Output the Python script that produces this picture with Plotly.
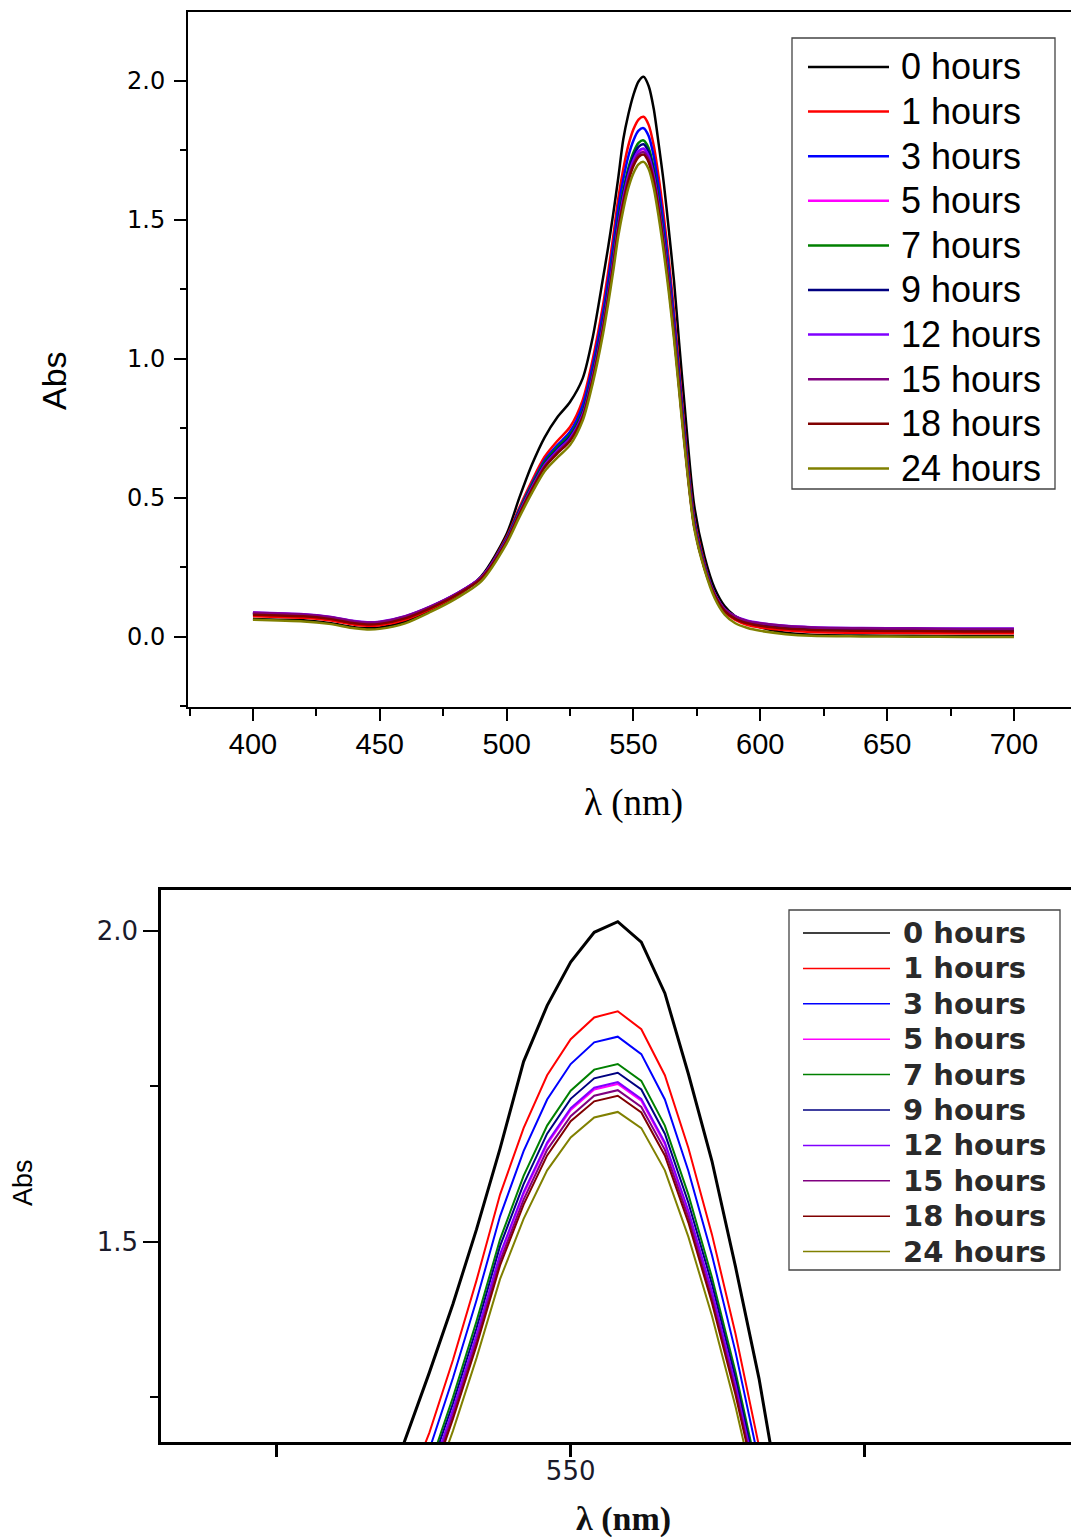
import plotly.graph_objects as go

W, H = 1071, 1537

wavelength = [400, 410, 420, 430, 440, 445, 450, 460, 470, 480,
              490, 500, 505, 510, 515, 520, 525, 530, 534, 538,
              540, 542, 544, 546, 548, 550, 552, 554, 556, 558,
              560, 562, 564, 566, 568, 570, 574, 578, 582, 586,
              590, 595, 600, 610, 620, 640, 660, 680, 700]

series_names = ["0 hours", "1 hours", "3 hours", "5 hours", "7 hours",
                "9 hours", "12 hours", "15 hours", "18 hours", "24 hours"]
series_colors = ["#000000", "#FF0000", "#0000FF", "#FF00FF", "#008000",
                 "#000080", "#8000FF", "#800080", "#800000", "#808000"]

abs_0h = [0.065, 0.062, 0.060, 0.050, 0.035, 0.031, 0.034, 0.055,
          0.095, 0.145, 0.218,
          0.370, 0.500, 0.620, 0.718, 0.790, 0.845,
          0.930, 1.080, 1.290, 1.400, 1.520, 1.650, 1.790, 1.880, 1.950, 1.998, 2.015,
          1.982, 1.900, 1.770, 1.630, 1.460, 1.280, 1.060, 0.850, 0.470, 0.290,
          0.175, 0.110, 0.075, 0.050, 0.035, 0.015, 0.008, 0.005, 0.004, 0.003, 0.003]
abs_1h = [0.075, 0.072, 0.069, 0.060, 0.044, 0.040, 0.042, 0.062,
          0.100, 0.148, 0.212,
          0.360, 0.465, 0.562, 0.648, 0.705, 0.755,
          0.852, 1.001, 1.193, 1.310, 1.438, 1.576, 1.683, 1.768, 1.826, 1.861, 1.871,
          1.842, 1.768, 1.651, 1.512, 1.352, 1.171, 0.969, 0.767, 0.426, 0.266,
          0.150, 0.090, 0.062, 0.043, 0.034, 0.024, 0.018, 0.015, 0.014, 0.013, 0.013]
abs_3h = [0.085, 0.082, 0.079, 0.070, 0.054, 0.050, 0.052, 0.072,
          0.108, 0.153, 0.214,
          0.355, 0.458, 0.552, 0.636, 0.690, 0.738,
          0.833, 0.979, 1.166, 1.281, 1.406, 1.541, 1.646, 1.729, 1.786, 1.821, 1.830,
          1.802, 1.729, 1.614, 1.479, 1.323, 1.146, 0.948, 0.750, 0.417, 0.260,
          0.155, 0.097, 0.071, 0.054, 0.045, 0.035, 0.030, 0.027, 0.026, 0.025, 0.025]
abs_5h = [0.086, 0.083, 0.080, 0.071, 0.055, 0.051, 0.053, 0.073,
          0.108, 0.153, 0.214,
          0.348, 0.447, 0.538, 0.619, 0.670, 0.715,
          0.799, 0.938, 1.118, 1.228, 1.348, 1.477, 1.577, 1.657, 1.712, 1.745, 1.754,
          1.727, 1.657, 1.547, 1.418, 1.268, 1.098, 0.908, 0.719, 0.399, 0.250,
          0.154, 0.098, 0.073, 0.056, 0.047, 0.037, 0.032, 0.029, 0.028, 0.027, 0.027]
abs_7h = [0.084, 0.081, 0.078, 0.069, 0.053, 0.049, 0.051, 0.071,
          0.107, 0.152, 0.213,
          0.352, 0.454, 0.547, 0.629, 0.682, 0.728,
          0.813, 0.956, 1.138, 1.250, 1.372, 1.504, 1.606, 1.687, 1.743, 1.777, 1.786,
          1.759, 1.687, 1.576, 1.443, 1.291, 1.118, 0.925, 0.732, 0.407, 0.254,
          0.155, 0.096, 0.070, 0.053, 0.044, 0.034, 0.029, 0.026, 0.025, 0.024, 0.024]
abs_9h = [0.085, 0.082, 0.079, 0.070, 0.054, 0.050, 0.052, 0.072,
          0.108, 0.153, 0.214,
          0.350, 0.450, 0.542, 0.623, 0.675, 0.721,
          0.807, 0.948, 1.130, 1.240, 1.361, 1.493, 1.593, 1.674, 1.730, 1.763, 1.772,
          1.745, 1.674, 1.563, 1.432, 1.281, 1.109, 0.918, 0.726, 0.403, 0.252,
          0.155, 0.098, 0.073, 0.056, 0.047, 0.037, 0.032, 0.029, 0.028, 0.027, 0.027]
abs_12h = [0.088, 0.085, 0.082, 0.073, 0.057, 0.053, 0.055, 0.075,
           0.110, 0.155, 0.215,
           0.348, 0.447, 0.538, 0.619, 0.670, 0.715,
           0.800, 0.940, 1.120, 1.230, 1.350, 1.480, 1.580, 1.660, 1.715, 1.748, 1.757,
           1.730, 1.660, 1.550, 1.420, 1.270, 1.100, 0.910, 0.720, 0.400, 0.250,
           0.155, 0.100, 0.075, 0.058, 0.050, 0.040, 0.035, 0.032, 0.031, 0.030, 0.030]
abs_15h = [0.087, 0.084, 0.081, 0.072, 0.056, 0.052, 0.054, 0.074,
           0.109, 0.154, 0.214,
           0.346, 0.444, 0.534, 0.614, 0.665, 0.710,
           0.794, 0.933, 1.112, 1.221, 1.340, 1.469, 1.568, 1.648, 1.702, 1.735, 1.744,
           1.717, 1.648, 1.539, 1.409, 1.261, 1.092, 0.903, 0.715, 0.397, 0.248,
           0.154, 0.099, 0.074, 0.057, 0.049, 0.039, 0.034, 0.031, 0.030, 0.029, 0.029]
abs_18h = [0.080, 0.077, 0.074, 0.065, 0.049, 0.045, 0.047, 0.067,
           0.104, 0.150, 0.210,
           0.344, 0.441, 0.530, 0.610, 0.660, 0.705,
           0.790, 0.928, 1.106, 1.215, 1.333, 1.462, 1.560, 1.639, 1.694, 1.726, 1.735,
           1.708, 1.639, 1.531, 1.402, 1.254, 1.086, 0.899, 0.711, 0.395, 0.247,
           0.150, 0.093, 0.066, 0.049, 0.040, 0.030, 0.025, 0.022, 0.021, 0.020, 0.020]
abs_24h = [0.062, 0.059, 0.056, 0.047, 0.031, 0.027, 0.029, 0.049,
           0.090, 0.138, 0.200,
           0.336, 0.430, 0.518, 0.596, 0.645, 0.690,
           0.778, 0.914, 1.089, 1.196, 1.313, 1.440, 1.537, 1.615, 1.668, 1.700, 1.709,
           1.683, 1.615, 1.508, 1.381, 1.235, 1.070, 0.885, 0.700, 0.389, 0.243,
           0.140, 0.080, 0.050, 0.032, 0.022, 0.010, 0.004, 0.002, 0.001, 0.000, 0.000]

series_values = [abs_0h, abs_1h, abs_3h, abs_5h, abs_7h,
                 abs_9h, abs_12h, abs_15h, abs_18h, abs_24h]

top_xticks = [400, 450, 500, 550, 600, 650, 700]
top_xminor = [375, 425, 475, 525, 575, 625, 675, 725]
top_yticks = [0.0, 0.5, 1.0, 1.5, 2.0]
top_yticktext = ["0.0", "0.5", "1.0", "1.5", "2.0"]
top_yminor = [-0.25, 0.25, 0.75, 1.25, 1.75]

bot_xticks = [525, 550, 575]
bot_xticktext = ["", "550", ""]
bot_yticks = [1.5, 2.0]
bot_yticktext = ["1.5", "2.0"]
bot_yminor = [1.25, 1.75]


def px_x(x):
    return x / W


def px_y(y):
    return 1 - y / H


fig = go.Figure()

for name, color, vals in zip(series_names, series_colors, series_values):
    fig.add_trace(go.Scatter(
        x=wavelength, y=vals, mode="lines", name=name,
        line=dict(color=color, width=2.5, shape="spline", smoothing=0.8),
        xaxis="x", yaxis="y", showlegend=False))

for name, color, vals in zip(series_names, series_colors, series_values):
    fig.add_trace(go.Scatter(
        x=wavelength, y=vals, mode="lines", name=name,
        line=dict(color=color, width=3 if name == "0 hours" else 2),
        xaxis="x2", yaxis="y2", showlegend=False))

axis_common = dict(showgrid=False, zeroline=False, showline=True,
                   linecolor="black", ticks="outside", tickcolor="black")

fig.update_layout(
    width=W, height=H,
    margin=dict(l=0, r=0, t=0, b=0),
    paper_bgcolor="white", plot_bgcolor="white",
    showlegend=False,
    xaxis=dict(**axis_common, domain=[px_x(188), 1], range=[374.4, 722.5],
               tickmode="array", tickvals=top_xticks, ticklen=12, tickwidth=2,
               linewidth=2, mirror=True, anchor="y",
               tickfont=dict(family="Liberation Sans, Arial", size=29, color="black"),
               ticklabelstandoff=-2,
               minor=dict(tickmode="array", tickvals=top_xminor, ticklen=7,
                          tickwidth=2, ticks="outside", tickcolor="black")),
    yaxis=dict(**axis_common, domain=[px_y(707), px_y(12)], range=[-0.252, 2.248],
               tickmode="array", tickvals=top_yticks, ticktext=top_yticktext,
               ticklen=12, tickwidth=2, linewidth=2, mirror=False, anchor="x",
               tickfont=dict(family="DejaVu Sans", size=24, color="black"),
               ticklabelstandoff=4,
               minor=dict(tickmode="array", tickvals=top_yminor, ticklen=6,
                          tickwidth=2, ticks="outside", tickcolor="black")),
    xaxis2=dict(**axis_common, domain=[px_x(161), 1], range=[515.2, 592.5],
                tickmode="array", tickvals=bot_xticks, ticktext=bot_xticktext,
                ticklen=12, tickwidth=2.5, linewidth=2.5, mirror=True, anchor="y2",
                tickfont=dict(family="DejaVu Sans", size=26, color="#1a1a2a"),
                ticklabelstandoff=-8),
    yaxis2=dict(**axis_common, domain=[px_y(1442), px_y(890)], range=[1.178, 2.066],
                tickmode="array", tickvals=bot_yticks, ticktext=bot_yticktext,
                ticklen=15, tickwidth=2, linewidth=2.5, mirror=False, anchor="x2",
                tickfont=dict(family="DejaVu Sans", size=26, color="#1a1a2a"),
                ticklabelstandoff=0,
                minor=dict(tickmode="array", tickvals=bot_yminor, ticklen=8,
                           tickwidth=2, ticks="outside", tickcolor="black")),
)

shapes = []
annotations = []

# axis titles
annotations.append(dict(text="Abs", x=px_x(54), y=px_y(381), xref="paper", yref="paper",
                        textangle=-90, showarrow=False, xanchor="center", yanchor="middle",
                        font=dict(family="Liberation Sans, Arial", size=34, color="black")))
annotations.append(dict(text="λ (nm)", x=px_x(633), y=px_y(803), xref="paper", yref="paper",
                        showarrow=False, xanchor="center", yanchor="middle",
                        font=dict(family="Liberation Serif, Times New Roman", size=37, color="black")))
annotations.append(dict(text="Abs", x=px_x(23), y=px_y(1183), xref="paper", yref="paper",
                        textangle=-90, showarrow=False, xanchor="center", yanchor="middle",
                        font=dict(family="Liberation Sans, Arial", size=27, color="black")))
annotations.append(dict(text="<b>λ (nm)</b>", x=px_x(623), y=px_y(1519), xref="paper", yref="paper",
                        showarrow=False, xanchor="center", yanchor="middle",
                        font=dict(family="Liberation Serif, Times New Roman", size=34, color="#111")))


def add_legend(box, first_y, step, line_x0, line_x1, text_x, font, lw):
    x0, y0, x1, y1 = box
    shapes.append(dict(type="rect", xref="paper", yref="paper",
                       x0=px_x(x0), x1=px_x(x1), y0=px_y(y1), y1=px_y(y0),
                       line=dict(color="#444", width=1.3), fillcolor="white", layer="above"))
    for i, (name, color) in enumerate(zip(series_names, series_colors)):
        yy = first_y + i * step
        shapes.append(dict(type="line", xref="paper", yref="paper",
                           x0=px_x(line_x0), x1=px_x(line_x1), y0=px_y(yy), y1=px_y(yy),
                           line=dict(color=color, width=lw), layer="above"))
        annotations.append(dict(text=name, x=px_x(text_x), y=px_y(yy), xref="paper", yref="paper",
                                showarrow=False, xanchor="left", yanchor="middle", font=font))


add_legend((792, 38, 1055, 489), 67, 44.6, 808, 889, 899,
           dict(family="Liberation Sans, Arial", size=36, color="black"), 2.5)
add_legend((789, 910, 1060, 1270), 933, 35.4, 803, 890, 901,
           dict(family="DejaVu Sans", size=29, color="#2a2a2a", weight="bold"), 1.5)

fig.update_layout(shapes=shapes, annotations=annotations)

fig.write_html("out.html",
               config={"displayModeBar": False},
               post_script="document.body.style.margin='0';document.body.style.overflow='hidden';")
